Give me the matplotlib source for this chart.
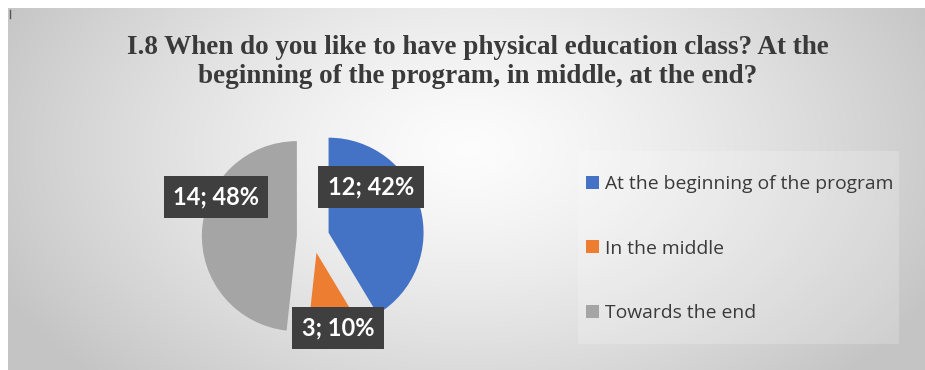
import numpy as np
import matplotlib
matplotlib.use("Agg")
import matplotlib.pyplot as plt
from matplotlib.patches import Rectangle

categories = ["At the beginning of the program", "In the middle", "Towards the end"]
values = [12, 3, 14]
pct_labels = ["42%", "10%", "48%"]
colors = ["#4472C4", "#ED7D31", "#A5A5A5"]
title = ("I.8 When do you like to have physical education class? At the\n"
         "beginning of the program, in middle, at the end?")

W, H = 925, 370
fig = plt.figure(figsize=(W / 100, H / 100), dpi=100)
fig.patch.set_facecolor("white")

# background panel with radial gradient
bg = fig.add_axes([8 / W, 0, 1 - 8 / W, 1 - 8 / H])
bg.set_axis_off()
yy, xx = np.mgrid[0:362, 0:917]
cx, cy = 460, 140
d = np.sqrt(((xx - cx) / 520.0) ** 2 + ((yy - cy) / 330.0) ** 2)
d = np.clip(d, 0, 1)
val = 0.99 - 0.22 * d ** 1.3
img = np.dstack([val, val, val])
bg.imshow(img, aspect="auto", extent=[0, 1, 0, 1], origin="upper", zorder=0)
bg.set_xlim(0, 1)
bg.set_ylim(0, 1)

# small marks at left edge
fig.add_artist(plt.Line2D([10 / W, 10 / W], [1 - 10 / H, 1 - 18 / H], color="#555555", lw=1))

# title
fig.text(478 / W, 1 - 62 / H, title, ha="center", va="center",
         fontfamily="Liberation Serif", fontweight="bold", fontsize=19.5,
         color="#3a3a3a", linespacing=1.2)

# pie
R = 95.0
cxp, cyp = 313, 237
half = 135
ax = fig.add_axes([(cxp - half) / W, (H - cyp - half) / H, 2 * half / W, 2 * half / H])
ax.set_axis_off()
wedges, _ = ax.pie(values, colors=colors, startangle=90, counterclock=False,
                   explode=[0.17, 0.17, 0.17], radius=1.0,
                   wedgeprops=dict(linewidth=0))
L = half / R
ax.set_xlim(-L, L)
ax.set_ylim(-L, L)
ax.set_aspect("equal")

# data labels
label_pos = [(371, 187), (338, 328), (216, 197)]
for v, p, (px, py) in zip(values, pct_labels, label_pos):
    xd = (px - cxp) / R
    yd = (cyp - py) / R
    ax.text(xd, yd, f"{v}; {p}", ha="center", va="center",
            fontfamily="Lato", fontweight="bold", fontsize=17, color="white",
            bbox=dict(boxstyle="square,pad=0.4", facecolor="#3f3f3f",
                      edgecolor="none"), zorder=5)

# legend box background
fig.patches.append(Rectangle((578 / W, 1 - 344 / H), (899 - 578) / W, (344 - 151) / H,
                             transform=fig.transFigure, facecolor="white",
                             alpha=0.2, edgecolor="none", zorder=1))
leg = fig.legend(wedges, categories, loc="upper left",
                 bbox_to_anchor=(586 / W, 1 - 175 / H),
                 frameon=False, prop=dict(family="Open Sans", size=13.9),
                 labelcolor="#3a3a3a", handlelength=0.65, handleheight=0.65,
                 handletextpad=0.35, labelspacing=2.42, borderpad=0,
                 borderaxespad=0)

fig.savefig("out.png", dpi=100)
